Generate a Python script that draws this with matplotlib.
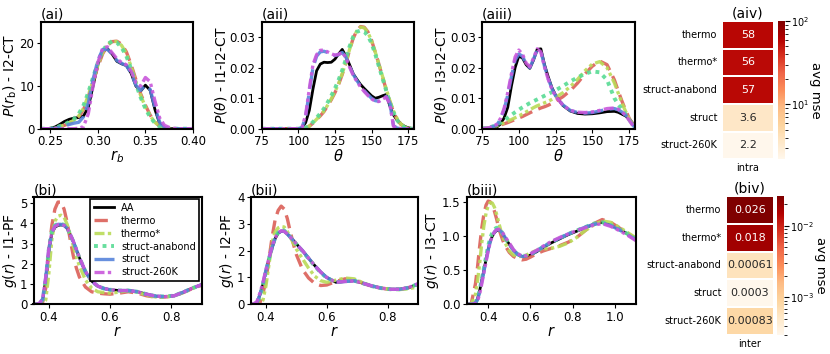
import numpy as np
import matplotlib
matplotlib.use("Agg")
import matplotlib.pyplot as plt
from matplotlib.colors import LogNorm
import seaborn as sns

# ---------------- data ----------------
models = ["AA", "thermo", "thermo*", "struct-anabond", "struct", "struct-260K"]

# (ai) bond length distribution I2-CT
rb_x = [0.240, 0.245, 0.250, 0.255, 0.260, 0.265, 0.270, 0.275, 0.280, 0.285, 0.290,
        0.295, 0.300, 0.305, 0.310, 0.315, 0.320, 0.325, 0.330, 0.335, 0.340, 0.345,
        0.350, 0.355, 0.360, 0.365, 0.370, 0.375, 0.380, 0.385, 0.390, 0.395, 0.400]
rb_aa = [0, 0, 0.1, 0.4, 1.0, 1.7, 2.2, 2.5, 2.6, 3.0, 5.0, 10.0, 15.0, 18.0, 18.8, 17.5,
         15.8, 15.2, 14.8, 13.0, 10.0, 8.8, 10.2, 9.0, 4.5, 1.2, 0.2, 0, 0, 0, 0, 0, 0]
rb_thermo = [0, 0, 0, 0.1, 0.4, 0.8, 1.2, 1.8, 2.8, 4.5, 7.5, 11.0, 14.5, 17.5, 19.5, 20.4,
             20.5, 19.8, 18.0, 15.0, 11.5, 8.2, 5.5, 3.2, 1.6, 0.6, 0.2, 0.1, 0, 0, 0, 0, 0]
rb_thermo_s = [0, 0, 0, 0.1, 0.5, 0.9, 1.4, 2.0, 3.0, 4.8, 7.8, 11.3, 14.8, 17.8, 19.7, 20.5,
               20.4, 19.5, 17.6, 14.6, 11.0, 7.8, 5.1, 3.0, 1.5, 0.5, 0.2, 0.1, 0, 0, 0, 0, 0]
rb_anabond = [0, 0, 0, 0.2, 0.6, 1.0, 1.6, 2.3, 3.5, 5.5, 8.5, 12.0, 15.5, 18.2, 19.8, 20.5,
              20.2, 19.0, 17.0, 14.0, 10.5, 7.3, 4.7, 2.7, 1.3, 0.5, 0.2, 0, 0, 0, 0, 0, 0]
rb_struct = [0, 0, 0, 0.1, 0.3, 0.6, 1.0, 1.3, 1.5, 2.8, 6.0, 11.5, 16.0, 18.5, 18.6, 17.5,
             16.0, 15.3, 14.8, 13.0, 10.2, 9.0, 10.2, 9.2, 5.0, 1.5, 0.3, 0, 0, 0, 0, 0, 0]
rb_260k = [0, 0, 0, 0, 0, 0, 0, 0, 0.1, 0.5, 3.5, 10.0, 15.5, 18.8, 19.2, 17.8, 16.4, 15.5,
           15.0, 13.5, 10.8, 10.0, 12.0, 11.0, 6.5, 2.5, 0.8, 0.3, 0.1, 0, 0, 0, 0]

# (aii) angle distribution I1-I2-CT
th2_x = [75, 90, 97.5, 100, 102.5, 105, 107.5, 110, 112.5, 115, 117.5, 120, 122.5, 125,
         127.5, 130, 132.5, 135, 137.5, 140, 142.5, 145, 147.5, 150, 152.5, 155, 157.5,
         160, 162.5, 165, 167.5, 170, 172.5, 175, 177.5, 180]
th2_aa = [0, 0, 0, 0, 0.0003, 0.002, 0.006, 0.013, 0.019, 0.0212, 0.0218, 0.0217, 0.0218,
          0.0228, 0.0245, 0.026, 0.0238, 0.021, 0.018, 0.0162, 0.0145, 0.0132, 0.012, 0.0108,
          0.0100, 0.0103, 0.0108, 0.0112, 0.0075, 0.0045, 0.0028, 0.0016, 0.0008, 0.0003,
          0.0001, 0]
th2_thermo = [0, 0, 0, 0, 0, 0.0002, 0.0008, 0.0018, 0.003, 0.0042, 0.0056, 0.0075, 0.0095,
              0.0118, 0.0145, 0.0178, 0.0215, 0.0258, 0.0297, 0.0322, 0.0335, 0.0333, 0.0318,
              0.029, 0.0252, 0.0212, 0.017, 0.0128, 0.0088, 0.0055, 0.0030, 0.0014, 0.0005,
              0.0001, 0, 0]
th2_thermo_s = [0, 0, 0, 0, 0, 0.0002, 0.0009, 0.0019, 0.0031, 0.0044, 0.0058, 0.0077,
                0.0098, 0.0121, 0.0148, 0.0181, 0.0218, 0.026, 0.0298, 0.0321, 0.0333,
                0.0331, 0.0316, 0.0289, 0.0252, 0.0213, 0.0172, 0.0131, 0.0092, 0.0058,
                0.0033, 0.0016, 0.0006, 0.0001, 0, 0]
th2_anabond = [0, 0, 0, 0, 0, 0.0003, 0.001, 0.0022, 0.0036, 0.005, 0.0066, 0.0086, 0.0108,
               0.0132, 0.016, 0.0192, 0.0228, 0.027, 0.0302, 0.0318, 0.0322, 0.0318, 0.0305,
               0.028, 0.0245, 0.0205, 0.0165, 0.0125, 0.0086, 0.0053, 0.0028, 0.0012,
               0.0004, 0, 0, 0]
th2_struct = [0, 0, 0, 0, 0.0003, 0.004, 0.012, 0.02, 0.0238, 0.0252, 0.0254, 0.025, 0.0244,
              0.0240, 0.0243, 0.0250, 0.0235, 0.0205, 0.0178, 0.0158, 0.0140, 0.0125, 0.0112,
              0.0100, 0.0092, 0.0090, 0.0098, 0.0106, 0.0085, 0.0010, 0.0002, 0, 0, 0, 0, 0]
th2_260k = [0, 0, 0, 0, 0.0004, 0.0045, 0.013, 0.021, 0.0243, 0.0257, 0.0258, 0.0252,
            0.0246, 0.0241, 0.0244, 0.0251, 0.0233, 0.0202, 0.0175, 0.0155, 0.0137, 0.0122,
            0.0109, 0.0098, 0.0090, 0.0089, 0.0097, 0.0104, 0.0080, 0.0008, 0.0001, 0, 0, 0,
            0, 0]

# (aiii) angle distribution I3-I2-CT
th3_x = [75, 80, 85, 87.5, 90, 92.5, 95, 97.5, 100, 102.5, 105, 107.5, 110, 112.5, 115,
         117.5, 120, 122.5, 125, 130, 135, 140, 145, 150, 155, 160, 165, 167.5, 170, 172.5,
         175, 177.5, 180]
th3_aa = [0, 0.0001, 0.0005, 0.0015, 0.0035, 0.007, 0.014, 0.020, 0.0238, 0.0232, 0.021,
          0.0198, 0.0225, 0.026, 0.0262, 0.021, 0.017, 0.0135, 0.0110, 0.0076, 0.0058,
          0.0050, 0.0048, 0.0049, 0.0052, 0.0056, 0.0057, 0.0054, 0.0048, 0.0042, 0.0032,
          0.0018, 0.0005]
th3_thermo = [0, 0.0003, 0.0008, 0.0012, 0.0016, 0.002, 0.0025, 0.003, 0.0035, 0.004, 0.0046,
              0.0052, 0.0058, 0.0063, 0.0068, 0.0072, 0.0077, 0.0083, 0.009, 0.0105, 0.0125,
              0.0150, 0.0180, 0.0205, 0.0222, 0.0210, 0.0160, 0.0125, 0.0092, 0.0062, 0.0035,
              0.0015, 0.0003]
th3_thermo_s = [0, 0.0003, 0.0009, 0.0014, 0.0019, 0.0024, 0.003, 0.0036, 0.0042, 0.0048,
                0.0055, 0.0062, 0.0069, 0.0075, 0.008, 0.0085, 0.009, 0.0096, 0.0103, 0.0118,
                0.0138, 0.0162, 0.0190, 0.0212, 0.0220, 0.0200, 0.0150, 0.0118, 0.0086,
                0.0058, 0.0032, 0.0014, 0.0003]
th3_anabond = [0, 0.0004, 0.0012, 0.002, 0.0028, 0.0036, 0.0045, 0.0054, 0.0062, 0.007,
               0.0077, 0.0084, 0.009, 0.0096, 0.0102, 0.0108, 0.0114, 0.0120, 0.0126, 0.0140,
               0.0155, 0.0168, 0.0180, 0.0188, 0.0185, 0.0160, 0.0100, 0.0080, 0.0065,
               0.0048, 0.0030, 0.0012, 0.0002]
th3_struct = [0, 0.0002, 0.0012, 0.003, 0.0062, 0.011, 0.017, 0.0225, 0.0245, 0.0238, 0.0212,
              0.0200, 0.0228, 0.0258, 0.0255, 0.0205, 0.0165, 0.0132, 0.0108, 0.0078, 0.0060,
              0.0053, 0.0051, 0.0053, 0.0058, 0.0064, 0.0066, 0.0062, 0.0055, 0.0045, 0.0030,
              0.0012, 0]
th3_260k = [0, 0.0003, 0.0014, 0.0033, 0.0066, 0.0118, 0.018, 0.0235, 0.0258, 0.0245, 0.0215,
            0.0203, 0.0232, 0.0262, 0.0252, 0.0202, 0.0162, 0.0130, 0.0106, 0.0077, 0.0060,
            0.0054, 0.0053, 0.0055, 0.0060, 0.0066, 0.0068, 0.0064, 0.0056, 0.0044, 0.0028,
            0.0010, 0]

# (bi) and (bii) radial distribution functions, shared r grid
r_x = [0.35, 0.36, 0.37, 0.38, 0.39, 0.40, 0.41, 0.42, 0.43, 0.44, 0.45, 0.46, 0.47, 0.48,
       0.49, 0.50, 0.52, 0.54, 0.56, 0.58, 0.60, 0.63, 0.66, 0.69, 0.72, 0.75, 0.78, 0.81,
       0.84, 0.87, 0.90]
g1_aa = [0, 0, 0.05, 0.2, 1.2, 2.6, 3.5, 3.8, 3.9, 3.92, 3.9, 3.75, 3.45, 3.1, 2.7, 2.3, 1.6,
         1.15, 0.9, 0.78, 0.72, 0.68, 0.68, 0.62, 0.5, 0.4, 0.38, 0.42, 0.6, 0.8, 0.97]
g1_thermo = [0, 0, 0.02, 0.1, 0.8, 2.6, 3.9, 4.7, 5.05, 5.05, 4.7, 4.05, 3.2, 2.4, 1.8, 1.35,
             0.85, 0.62, 0.55, 0.52, 0.5, 0.55, 0.62, 0.55, 0.42, 0.35, 0.36, 0.42, 0.58, 0.78,
             0.95]
g1_thermo_s = [0, 0, 0, 0.02, 0.2, 1.5, 3.2, 4.1, 4.35, 4.4, 4.3, 3.95, 3.45, 2.9, 2.35, 1.9,
               1.2, 0.8, 0.62, 0.58, 0.55, 0.6, 0.68, 0.6, 0.45, 0.36, 0.36, 0.42, 0.58, 0.78,
               0.95]
g1_anabond = [0, 0, 0.04, 0.22, 1.25, 2.7, 3.6, 3.9, 3.98, 3.98, 3.92, 3.76, 3.45, 3.1, 2.7,
              2.3, 1.62, 1.15, 0.9, 0.78, 0.72, 0.68, 0.68, 0.62, 0.5, 0.4, 0.38, 0.43, 0.6,
              0.8, 0.97]
g1_struct = [0, 0, 0.05, 0.25, 1.3, 2.7, 3.55, 3.85, 3.95, 3.95, 3.9, 3.75, 3.45, 3.1, 2.7,
             2.3, 1.6, 1.15, 0.9, 0.78, 0.72, 0.68, 0.68, 0.62, 0.5, 0.4, 0.38, 0.42, 0.6, 0.8,
             0.97]
g1_260k = [0, 0, 0.06, 0.28, 1.35, 2.75, 3.55, 3.85, 3.93, 3.95, 3.9, 3.76, 3.47, 3.12, 2.72,
           2.32, 1.62, 1.16, 0.9, 0.78, 0.72, 0.68, 0.68, 0.62, 0.5, 0.4, 0.38, 0.42, 0.6,
           0.8, 0.97]

g2_aa = [0, 0, 0.05, 0.35, 0.75, 1.25, 1.7, 2.1, 2.45, 2.65, 2.72, 2.72, 2.62, 2.5, 2.38,
         2.25, 2.0, 1.72, 1.45, 1.2, 1.0, 0.82, 0.85, 0.88, 0.78, 0.68, 0.6, 0.56, 0.56, 0.62,
         0.75]
g2_thermo = [0, 0, 0, 0.05, 0.4, 0.9, 1.7, 2.5, 3.15, 3.5, 3.66, 3.55, 3.2, 2.7, 2.25, 1.85,
             1.3, 0.98, 0.78, 0.7, 0.72, 0.85, 0.95, 0.92, 0.78, 0.66, 0.6, 0.56, 0.56, 0.62,
             0.73]
g2_thermo_s = [0, 0, 0, 0, 0.15, 0.7, 1.5, 2.3, 2.7, 2.85, 2.9, 2.88, 2.72, 2.5, 2.28, 2.05,
               1.7, 1.35, 1.05, 0.88, 0.82, 0.9, 0.98, 0.95, 0.8, 0.68, 0.6, 0.56, 0.55, 0.58,
               0.65]
g2_anabond = [0, 0, 0.04, 0.3, 0.72, 1.22, 1.7, 2.12, 2.48, 2.68, 2.76, 2.75, 2.64, 2.51,
              2.38, 2.24, 1.98, 1.7, 1.43, 1.18, 0.98, 0.82, 0.86, 0.88, 0.78, 0.67, 0.6,
              0.56, 0.56, 0.62, 0.76]
g2_struct = [0, 0, 0.06, 0.36, 0.78, 1.28, 1.72, 2.12, 2.46, 2.66, 2.73, 2.72, 2.62, 2.5,
             2.38, 2.25, 2.0, 1.72, 1.45, 1.2, 1.0, 0.82, 0.85, 0.88, 0.78, 0.68, 0.6, 0.56,
             0.56, 0.62, 0.76]
g2_260k = [0, 0.02, 0.1, 0.42, 0.82, 1.3, 1.74, 2.14, 2.48, 2.67, 2.74, 2.72, 2.62, 2.5, 2.38,
           2.25, 2.0, 1.72, 1.45, 1.2, 1.0, 0.82, 0.85, 0.87, 0.78, 0.68, 0.6, 0.56, 0.56,
           0.63, 0.77]

# (biii) radial distribution I3-CT
r3_x = [0.30, 0.32, 0.34, 0.35, 0.36, 0.37, 0.38, 0.39, 0.40, 0.41, 0.42, 0.43, 0.44, 0.45,
        0.46, 0.47, 0.48, 0.50, 0.52, 0.54, 0.56, 0.58, 0.60, 0.63, 0.66, 0.70, 0.74, 0.78,
        0.82, 0.86, 0.90, 0.94, 0.98, 1.02, 1.06, 1.10]
g3_aa = [0, 0, 0.02, 0.08, 0.2, 0.35, 0.5, 0.65, 0.8, 0.92, 1.0, 1.05, 1.08, 1.08, 1.06, 1.02,
         0.97, 0.88, 0.79, 0.73, 0.70, 0.70, 0.72, 0.77, 0.83, 0.90, 0.96, 1.02, 1.07, 1.12,
         1.17, 1.2, 1.16, 1.1, 1.03, 0.95]
g3_thermo = [0, 0.01, 0.3, 0.55, 0.85, 1.12, 1.32, 1.45, 1.51, 1.5, 1.45, 1.36, 1.25, 1.12,
             1.02, 0.93, 0.86, 0.76, 0.7, 0.67, 0.65, 0.66, 0.69, 0.74, 0.78, 0.82, 0.86, 0.91,
             0.98, 1.08, 1.18, 1.24, 1.2, 1.12, 1.04, 0.96]
g3_thermo_s = [0, 0, 0.15, 0.35, 0.6, 0.9, 1.15, 1.33, 1.44, 1.49, 1.48, 1.42, 1.32, 1.2,
               1.08, 0.98, 0.9, 0.78, 0.72, 0.7, 0.7, 0.72, 0.75, 0.79, 0.81, 0.82, 0.85, 0.9,
               0.98, 1.08, 1.16, 1.22, 1.2, 1.13, 1.05, 0.97]
g3_anabond = [0, 0, 0.02, 0.08, 0.21, 0.37, 0.53, 0.69, 0.85, 0.97, 1.05, 1.1, 1.12, 1.11,
              1.08, 1.03, 0.97, 0.88, 0.79, 0.73, 0.71, 0.71, 0.73, 0.78, 0.84, 0.91, 0.97,
              1.03, 1.08, 1.13, 1.18, 1.2, 1.16, 1.1, 1.03, 0.95]
g3_struct = [0, 0, 0.02, 0.07, 0.18, 0.33, 0.48, 0.64, 0.79, 0.92, 1.0, 1.06, 1.09, 1.09,
             1.07, 1.03, 0.98, 0.88, 0.79, 0.73, 0.70, 0.70, 0.73, 0.78, 0.84, 0.91, 0.97,
             1.03, 1.08, 1.13, 1.17, 1.19, 1.15, 1.09, 1.02, 0.94]
g3_260k = [0, 0, 0.01, 0.05, 0.15, 0.3, 0.46, 0.62, 0.78, 0.91, 1.0, 1.06, 1.09, 1.1, 1.08,
           1.04, 0.99, 0.9, 0.8, 0.74, 0.71, 0.71, 0.74, 0.79, 0.85, 0.92, 0.98, 1.03, 1.08,
           1.12, 1.16, 1.18, 1.14, 1.08, 1.01, 0.93]

# heatmaps: average mse per model
hm_rows = ["thermo", "thermo*", "struct-anabond", "struct", "struct-260K"]
mse_intra = [58, 56, 57, 3.6, 2.2]
mse_inter = [0.026, 0.018, 0.00061, 0.0003, 0.00083]

# ---------------- styling ----------------
hls = sns.color_palette("hls", 5)
colors = ["black"] + list(hls)
dashes = [None, (4, 2), (3, 1, 1, 1, 1, 1), (1, 1.2), (6, 2), (3, 1, 1, 1, 1, 1)]
lws = [2.0, 2.4, 2.4, 2.8, 2.4, 2.4]
alphas = [1.0, 0.9, 0.9, 0.9, 0.9, 0.9]

W, H = 830, 354
fig = plt.figure(figsize=(W / 100, H / 100), dpi=100)


def box(l, b, r, t):
    return [l / W, 1 - b / H, (r - l) / W, (b - t) / H]


def line_panel(rect, x, ys, xlim, ylim, xlabel, ylabel, title, xticks=None, yticks=None):
    ax = fig.add_axes(rect)
    for i, y in enumerate(ys):
        ln, = ax.plot(x, y, color=colors[i], lw=lws[i], alpha=alphas[i], label=models[i],
                      zorder=1 + i * 0.1)
        if dashes[i] is not None:
            ln.set_dashes(dashes[i])
    ax.set_xlim(*xlim)
    ax.set_ylim(*ylim)
    if xticks is not None:
        ax.set_xticks(xticks)
    if yticks is not None:
        ax.set_yticks(yticks)
    ax.set_xlabel(xlabel, fontsize=10.5, labelpad=0)
    ax.set_ylabel(ylabel, fontsize=10, labelpad=0.5)
    ax.set_title(title, loc="left", fontsize=10, pad=2)
    ax.tick_params(labelsize=8.5, length=3, pad=1.5)
    for s in ax.spines.values():
        s.set_linewidth(1.5)
        s.set_zorder(5)
    return ax


line_panel(box(40.7, 128.7, 193, 22), rb_x,
           [rb_aa, rb_thermo, rb_thermo_s, rb_anabond, rb_struct, rb_260k],
           (0.24, 0.40), (0, 25), r"$r_b$", r"$P(r_\mathrm{b})$ - I2-CT", "(ai)",
           xticks=[0.25, 0.30, 0.35, 0.40], yticks=[0, 10, 20])
line_panel(box(261.7, 128.7, 414, 22), th2_x,
           [th2_aa, th2_thermo, th2_thermo_s, th2_anabond, th2_struct, th2_260k],
           (75, 179), (0, 0.035), r"$\theta$", r"$P(\theta)$ - I1-I2-CT", "(aii)",
           xticks=[75, 100, 125, 150, 175], yticks=[0, 0.01, 0.02, 0.03])
line_panel(box(482, 128.7, 635, 22), th3_x,
           [th3_aa, th3_thermo, th3_thermo_s, th3_anabond, th3_struct, th3_260k],
           (75, 179), (0, 0.035), r"$\theta$", r"$P(\theta)$ - I3-I2-CT", "(aiii)",
           xticks=[75, 100, 125, 150, 175], yticks=[0, 0.01, 0.02, 0.03])

axb1 = line_panel(box(33.5, 304.3, 201.7, 197), r_x,
                  [g1_aa, g1_thermo, g1_thermo_s, g1_anabond, g1_struct, g1_260k],
                  (0.35, 0.9), (0, 5.3), r"$r$", r"$g(r)$ - I1-PF", "(bi)",
                  xticks=[0.4, 0.6, 0.8], yticks=[0, 1, 2, 3, 4, 5])
line_panel(box(250.8, 304.3, 418, 197), r_x,
           [g2_aa, g2_thermo, g2_thermo_s, g2_anabond, g2_struct, g2_260k],
           (0.35, 0.9), (0, 4), r"$r$", r"$g(r)$ - I2-PF", "(bii)",
           xticks=[0.4, 0.6, 0.8], yticks=[0, 1, 2, 3, 4])
line_panel(box(467, 304.3, 636, 197), r3_x,
           [g3_aa, g3_thermo, g3_thermo_s, g3_anabond, g3_struct, g3_260k],
           (0.3, 1.1), (0, 1.57), r"$r$", r"$g(r)$ - I3-CT", "(biii)",
           xticks=[0.4, 0.6, 0.8, 1.0], yticks=[0, 0.5, 1.0, 1.5])

leg = axb1.legend(loc="upper right", fontsize=7, handlelength=2.1, borderpad=0.35,
                  labelspacing=0.3, handletextpad=0.7, fancybox=False,
                  borderaxespad=0.25)
leg.get_frame().set_edgecolor("black")
leg.get_frame().set_linewidth(1.2)
leg.get_frame().set_alpha(1)
leg.set_zorder(6)


def heat_panel(rect, cbar_rect, vals, label, title, vmin, vmax):
    ax = fig.add_axes(rect)
    cax = fig.add_axes(cbar_rect)
    data = np.array(vals).reshape(-1, 1)
    sns.heatmap(data, ax=ax, cbar_ax=cax, cmap="OrRd", norm=LogNorm(vmin=vmin, vmax=vmax),
                annot=True, fmt=".2g", annot_kws={"fontsize": 8},
                linewidths=1.2, linecolor="white",
                xticklabels=[label], yticklabels=hm_rows)
    ax.tick_params(length=0, labelsize=7, pad=3)
    ax.set_yticklabels(hm_rows, rotation=0)
    ax.set_title(title, fontsize=10, pad=2)
    cax.tick_params(labelsize=7, pad=1)
    cax.set_ylabel("avg mse", fontsize=9.5, rotation=270, labelpad=9)
    for s in cax.spines.values():
        s.set_visible(False)


heat_panel(box(721.7, 159.3, 774, 21), box(778, 159.3, 785, 21), mse_intra, "intra",
           "(aiv)", 2.2, 100)
heat_panel(box(725.7, 335, 774, 196), box(777, 335, 784, 196), mse_inter, "inter",
           "(biv)", min(mse_inter), max(mse_inter))

fig.savefig("out.png", dpi=100)
